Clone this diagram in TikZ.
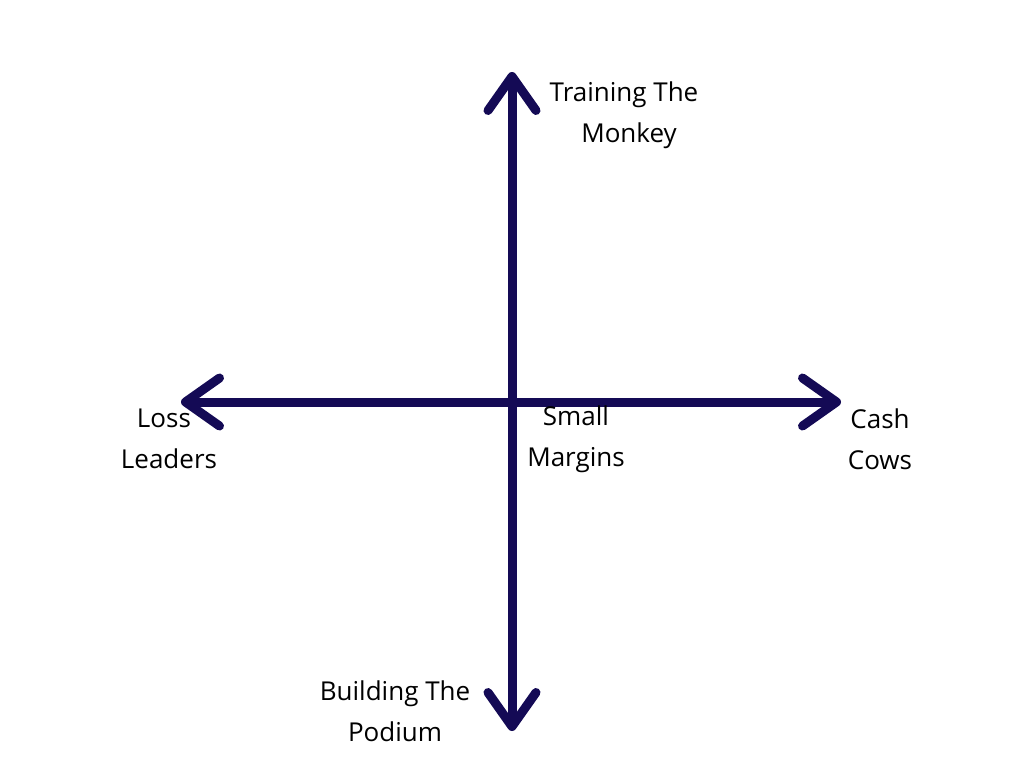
\documentclass[tikz,border=0pt]{standalone}
\usepackage{fontspec}
\setmainfont{Open Sans}
\usetikzlibrary{arrows.meta}
\definecolor{navy}{RGB}{20,10,85}
\begin{document}
\begin{tikzpicture}[x=1pt,y=-1pt,
  axis/.style={draw=navy,line width=9pt,line cap=round,
    {Straight Barb[length=34pt,width=48pt,line cap=round,line join=round]}-{Straight Barb[length=34pt,width=48pt,line cap=round,line join=round]}},
  lbl/.style={align=center,font=\fontsize{26}{41}\selectfont,text=black,inner sep=0pt}]
\useasboundingbox[fill=white] (0,0) rectangle (1024,768);
\coordinate (top) at (512,72);
\coordinate (bottom) at (512,731);
\coordinate (left) at (181,402);
\coordinate (right) at (841,402);
\draw[axis] (bottom) -- (top);
\draw[axis] (left) -- (right);
\node[lbl] (tm) at (624,115) {Training The\\\hspace*{10pt}Monkey};
\node[lbl] (ll) at (169,439) {\hspace*{-10pt}Loss\\Leaders};
\node[lbl] (sm) at (576,439) {Small\\Margins};
\node[lbl] (cc) at (880,439) {Cash\\Cows};
\node[lbl] (bp) at (395,711) {Building The\\Podium};
\end{tikzpicture}
\end{document}
